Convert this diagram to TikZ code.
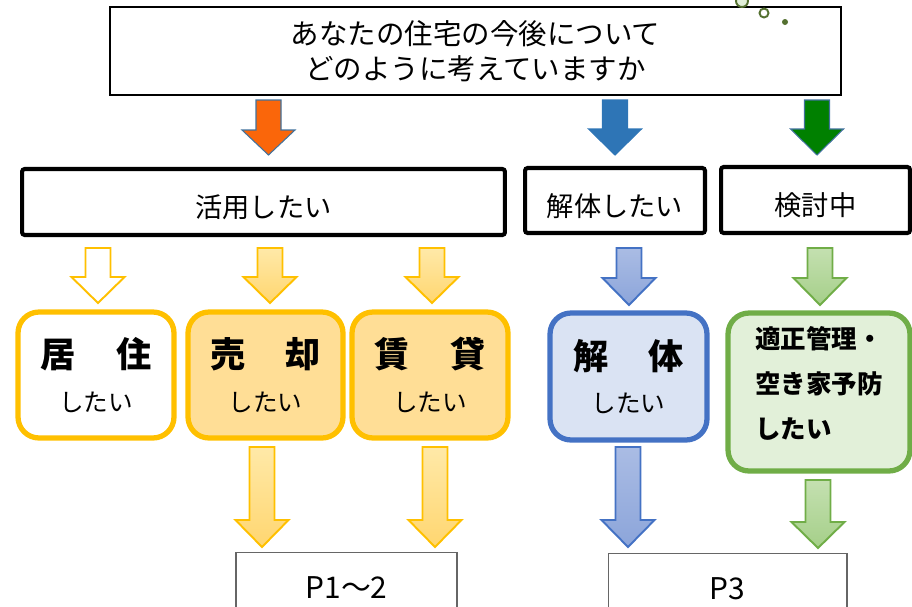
\documentclass[tikz,border=0pt]{standalone}
\usepackage{fontspec}
\setmainfont{Noto Sans CJK JP}
\usetikzlibrary{calc}

\definecolor{ArrOrange}{RGB}{250,102,10}
\definecolor{ArrBlue}{RGB}{46,117,182}
\definecolor{ArrGreen}{RGB}{0,128,0}
\definecolor{ArrEdge}{RGB}{65,113,156}
\definecolor{Gold}{RGB}{255,192,0}
\definecolor{GoldLight}{RGB}{255,233,168}
\definecolor{GoldMid}{RGB}{255,214,112}
\definecolor{GoldFill}{RGB}{255,222,150}
\definecolor{SkyEdge}{RGB}{68,114,196}
\definecolor{SkyLight}{RGB}{170,188,228}
\definecolor{SkyMid}{RGB}{140,165,218}
\definecolor{SkyFill}{RGB}{218,227,243}
\definecolor{LeafEdge}{RGB}{112,173,71}
\definecolor{LeafLight}{RGB}{196,224,176}
\definecolor{LeafMid}{RGB}{165,207,137}
\definecolor{LeafFill}{RGB}{226,240,217}
\definecolor{LeafDark}{RGB}{84,112,48}

\tikzset{
	askbox/.style={draw=black, line width=1.4pt, fill=white, inner sep=0pt, align=center, font=\fontsize{16.2}{20}\selectfont},
	choicebox/.style={draw=black, line width=2.3pt, rounded corners=1.5pt, fill=white, inner sep=0pt, text height=0.62cm, text depth=0cm, font=\fontsize{15.5}{19}\selectfont},
	wishbox/.style={line width=3pt, rounded corners=0.42cm, inner sep=0pt, align=center},
	pagebox/.style={draw=black!60, line width=0.6pt, fill=white, anchor=north, inner sep=0pt, font=\fontsize{17}{20}\selectfont},
}
\def\blockarrow[#1](#2,#3,#4,#5){\draw[#1] ({#2-12.5},#3) -- ({#2+12.5},#3) -- ({#2+12.5},#4) -- ({#2+26.5},#4) -- (#2,#5) -- ({#2-26.5},#4) -- ({#2-12.5},#4) -- cycle;}
\def\wishtext#1{{\fontsize{20}{24}\selectfont\bfseries #1}\\[0.38cm]{\fontsize{14}{17}\selectfont したい}}

\begin{document}
\begin{tikzpicture}[x=0.02cm, y=-0.02cm]
	%%%%% START %%%%%
	\useasboundingbox (0,0) rectangle (912,606);
	
	\node[askbox, minimum width=14.62cm, minimum height=1.76cm] (ask) at (475.5,51) {あなたの住宅の今後について\\どのように考えていますか};
	
	\draw[line width=1.1pt, draw=LeafDark, fill=LeafFill] (742,1) circle (6);
	\draw[line width=1.1pt, draw=LeafDark, fill=white] (764,13) circle (4.5);
	\fill[LeafDark] (785,22) circle (3);
	
	\blockarrow[line width=0.6pt, draw=ArrEdge, fill=ArrOrange](268.5,100,130,155)
	\blockarrow[line width=0.6pt, draw=ArrBlue, fill=ArrBlue](615,100,129,155)
	\blockarrow[line width=0.6pt, draw=ArrEdge, fill=ArrGreen](817,100,129,155)
	
	\node[choicebox, minimum width=9.66cm, minimum height=1.32cm] (use) at (263.5,202) {活用したい};
	\node[choicebox, minimum width=3.6cm, minimum height=1.3cm] (demolish) at (615,200.5) {解体したい};
	\node[choicebox, minimum width=3.78cm, minimum height=1.32cm] (consider) at (815.5,200) {検討中};
	
	\blockarrow[line width=1.1pt, draw=Gold, fill=white](98,248,277,303)
	\blockarrow[line width=1.1pt, draw=Gold, top color=GoldLight, bottom color=GoldMid](270,248,277,303)
	\blockarrow[line width=1.1pt, draw=Gold, top color=GoldLight, bottom color=GoldMid](432,248,277,303)
	\blockarrow[line width=1.1pt, draw=SkyEdge, top color=SkyLight, bottom color=SkyMid](629,248,278,305)
	\blockarrow[line width=1.1pt, draw=LeafEdge, top color=LeafLight, bottom color=LeafMid](820,248,278,305)
	
	\node[wishbox, draw=Gold, fill=white, minimum width=3.12cm, minimum height=2.52cm] (live) at (96,375) {\wishtext{居\hspace{1.15em}住}};
	\node[wishbox, draw=Gold, fill=GoldFill, minimum width=3.1cm, minimum height=2.52cm] (sell) at (265.5,375) {\wishtext{売\hspace{1.15em}却}};
	\node[wishbox, draw=Gold, fill=GoldFill, minimum width=3.12cm, minimum height=2.52cm] (rent) at (430,375) {\wishtext{賃\hspace{1.15em}貸}};
	\node[wishbox, draw=SkyEdge, fill=SkyFill, minimum width=3.14cm, minimum height=2.54cm] (teardown) at (628.5,376.5) {\wishtext{解\hspace{1.15em}体}};
	\node[wishbox, draw=LeafEdge, fill=LeafFill, minimum width=3.64cm, minimum height=3.16cm, text depth=0.38cm, align=left, font=\fontsize{14.5}{25.8}\selectfont\bfseries] (keep) at (819,392) {適正管理・\\空き家予防\\したい};
	
	\blockarrow[line width=1.1pt, draw=Gold, top color=GoldLight, bottom color=GoldMid](262,447,520,547)
	\blockarrow[line width=1.1pt, draw=Gold, top color=GoldLight, bottom color=GoldMid](435,447,520,547)
	\blockarrow[line width=1.1pt, draw=SkyEdge, top color=SkyLight, bottom color=SkyMid](628,447,520,547)
	\blockarrow[line width=1.1pt, draw=LeafEdge, top color=LeafLight, bottom color=LeafMid](818,480,522,548)
	
	\node[pagebox, minimum width=4.42cm, minimum height=1.4cm] (pone) at (346.5,552) {P1～2};
	\node[pagebox, minimum width=4.78cm, minimum height=1.4cm] (pthree) at (727.5,553) {P3};
	%%%%% END %%%%%
\end{tikzpicture}
\end{document}
